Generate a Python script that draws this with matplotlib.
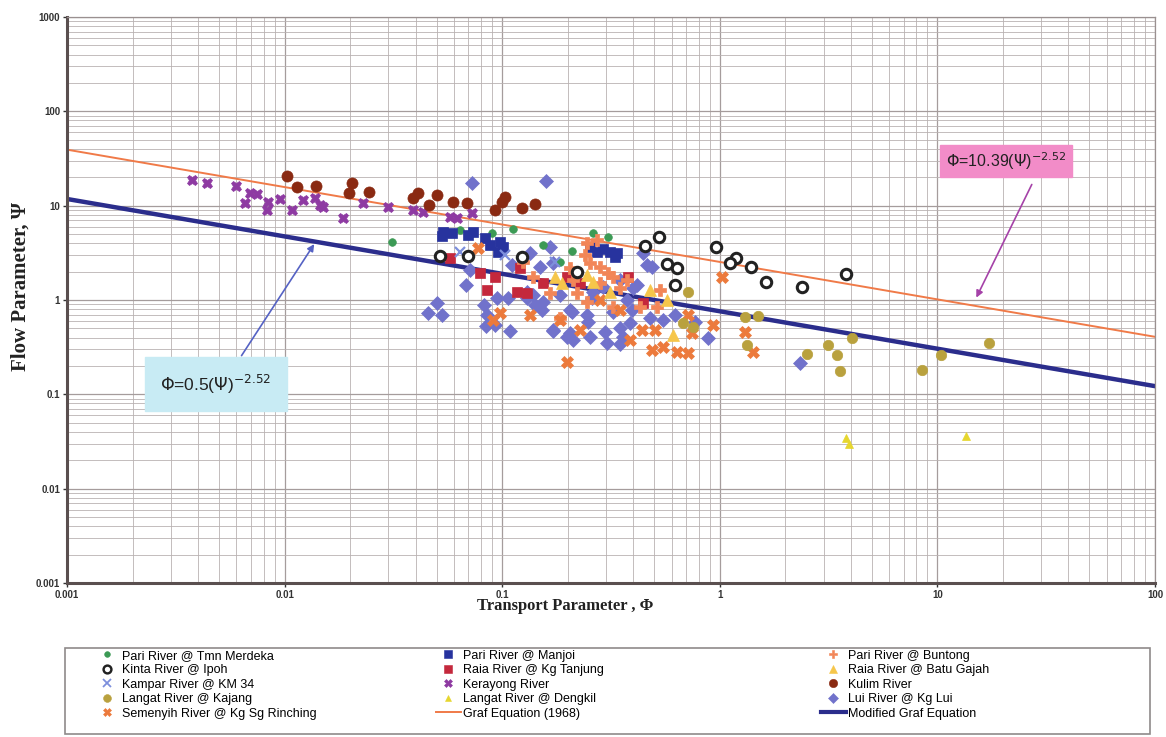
import numpy as np
import matplotlib
matplotlib.use("Agg")
import matplotlib.pyplot as plt
from matplotlib.lines import Line2D
from matplotlib.patches import Rectangle
from matplotlib.ticker import LogLocator, FixedLocator, FixedFormatter, NullFormatter

# ---------------- data (Transport parameter PHI, Flow parameter PSI) ----------------
tmn_phi = [0.0312, 0.064, 0.0711, 0.0898, 0.112, 0.154, 0.209, 0.261, 0.306, 0.185]
tmn_psi = [4.11, 5.51, 5.0, 5.13, 5.65, 3.82, 3.30, 5.13, 4.65, 2.52]

manjoi_phi = [0.0535, 0.053, 0.0588, 0.0697, 0.0735, 0.0834, 0.0977, 0.0957, 0.101,
              0.253, 0.273, 0.291, 0.313, 0.330, 0.337, 0.0879]
manjoi_psi = [5.25, 4.76, 5.13, 4.88, 5.25, 4.54, 4.11, 3.22, 3.64,
              3.64, 3.22, 3.47, 3.22, 2.85, 3.14, 3.82]

buntong_phi = [0.245, 0.240, 0.253, 0.282, 0.306, 0.323, 0.282, 0.348, 0.375, 0.212, 0.221,
               0.166, 0.139, 0.125, 0.430, 0.515, 0.531, 0.323, 0.245, 0.185, 0.273, 0.205]
buntong_psi = [4.02, 2.99, 2.46, 2.23, 1.93, 1.75, 1.51, 1.34, 1.62, 1.62, 1.18,
               1.18, 1.75, 2.52, 0.841, 0.841, 1.27, 0.841, 0.95, 0.643, 4.32, 2.18]

kinta_phi = [0.0518, 0.0697, 0.123, 0.221, 0.454, 0.526, 0.573, 0.637, 0.622, 0.961,
             1.19, 1.11, 1.39, 1.63, 2.39, 3.80]
kinta_psi = [2.92, 2.92, 2.85, 1.98, 3.73, 4.65, 2.40, 2.18, 1.44, 3.64,
             2.78, 2.46, 2.23, 1.55, 1.37, 1.88]

tanjung_phi = [0.0576, 0.0791, 0.0852, 0.0927, 0.117, 0.130, 0.154, 0.199, 0.228, 0.379,
               0.444, 0.121]
tanjung_psi = [2.78, 1.93, 1.27, 1.75, 1.21, 1.18, 1.51, 1.75, 1.51, 1.75, 0.929, 2.18]

batugajah_phi = [0.175, 0.188, 0.245, 0.261, 0.478, 0.573, 0.609, 0.313]
batugajah_psi = [1.75, 1.51, 1.84, 1.55, 1.27, 1.0, 0.425, 1.21]

kampar_phi = [0.103, 0.064, 0.175]
kampar_psi = [2.99, 3.22, 2.52]

kerayong_phi = [0.00375, 0.0044, 0.0060, 0.0069, 0.0075, 0.0066, 0.0084, 0.0083, 0.0095,
                0.0108, 0.0122, 0.0138, 0.0146, 0.0150, 0.0185, 0.0229, 0.0299, 0.0389,
                0.0433, 0.0576, 0.062, 0.0726]
kerayong_psi = [18.7, 17.4, 16.1, 13.6, 13.3, 10.7, 10.9, 9.0, 11.7, 9.0, 11.5, 12.0,
                10.1, 9.7, 7.4, 10.7, 9.7, 9.0, 8.55, 7.57, 7.4, 8.35]

kulim_phi = [0.0103, 0.0114, 0.0139, 0.0204, 0.0198, 0.0244, 0.0389, 0.0410, 0.0461,
             0.0502, 0.0594, 0.0689, 0.0927, 0.0998, 0.103, 0.123, 0.142]
kulim_psi = [20.6, 15.7, 16.1, 17.4, 13.6, 13.9, 12.0, 13.6, 10.1, 12.9, 10.9, 10.7,
             9.0, 10.9, 12.3, 9.44, 10.4]

kajang_phi = [0.714, 0.678, 0.753, 1.31, 1.50, 1.33, 2.52, 3.15, 3.46, 3.57, 4.05,
              8.51, 10.4, 17.3]
kajang_psi = [1.21, 0.569, 0.516, 0.659, 0.676, 0.333, 0.267, 0.333, 0.261, 0.176,
              0.395, 0.181, 0.261, 0.349]

dengkil_phi = [3.80, 3.93, 13.5]
dengkil_psi = [0.0343, 0.0297, 0.036]

lui_phi = [0.0726, 0.159, 0.0456, 0.0502, 0.053, 0.0682, 0.0826, 0.0843, 0.0927, 0.0947,
           0.109, 0.106, 0.130, 0.139, 0.142, 0.152, 0.171, 0.199, 0.212, 0.209, 0.248,
           0.253, 0.303, 0.297, 0.359, 0.387, 0.261, 0.323, 0.417, 0.0852, 0.548, 0.883,
           0.444, 0.489, 0.622, 0.769, 2.34, 0.134, 0.166, 0.171, 0.149, 0.130, 0.154,
           0.185, 0.205, 0.245, 0.259, 0.291, 0.348, 0.375, 0.399, 0.463, 0.478, 0.171,
           0.205, 0.348, 0.395, 0.111, 0.0711, 0.348]
lui_psi = [17.4, 18.2, 0.726, 0.929, 0.692, 1.44, 0.883, 0.528, 0.542, 1.05,
           0.468, 1.05, 1.05, 1.13, 0.883, 0.782, 0.468, 0.404, 0.376, 0.745, 0.583,
           0.404, 0.349, 0.457, 0.404, 0.569, 1.21, 0.745, 1.44, 0.692, 0.612, 0.395,
           3.14, 2.23, 0.692, 0.583, 0.214, 3.14, 3.64, 2.46, 2.23, 1.21, 0.95,
           1.13, 0.782, 0.692, 1.05, 1.37, 1.62, 1.0, 1.34, 2.35, 0.643, 0.48,
           0.446, 0.504, 0.782, 2.35, 2.08, 0.340]

semenyih_phi = [0.199, 0.0977, 0.0908, 0.489, 0.548, 0.637, 0.714, 0.931, 1.31, 1.42,
                1.02, 0.714, 0.746, 0.440, 0.0774, 0.282, 0.348, 0.228, 0.185, 0.387,
                0.504, 0.134]
semenyih_psi = [0.22, 0.726, 0.612, 0.294, 0.317, 0.281, 0.274, 0.542, 0.457, 0.281,
                1.75, 0.692, 0.446, 0.48, 3.55, 1.0, 0.782, 0.48, 0.612, 0.376,
                0.48, 0.692]

# equation constants
graf_coef = 10.39
mod_coef = 0.5
exponent = -2.52

x_ticks = [0.001, 0.01, 0.1, 1, 10, 100]
x_tick_labels = ["0.001", "0.01", "0.1", "1", "10", "100"]
y_ticks = [0.001, 0.01, 0.1, 1, 10, 100, 1000]
y_tick_labels = ["0.001", "0.01", "0.1", "1", "10", "100", "1000"]

# ---------------- figure ----------------
W, H = 1166, 737
fig = plt.figure(figsize=(W / 100, H / 100), dpi=100)
ax = fig.add_axes([67 / W, 1 - 583 / H, (1155 - 67) / W, (583 - 17) / H])
ax.set_xscale("log")
ax.set_yscale("log")
ax.set_xlim(0.001, 100)
ax.set_ylim(0.001, 1000)

grid_c = "#b9b2b2"
ax.xaxis.set_minor_locator(LogLocator(base=10, subs=np.arange(2, 10)))
ax.yaxis.set_minor_locator(LogLocator(base=10, subs=np.arange(2, 10)))
ax.xaxis.set_minor_formatter(NullFormatter())
ax.yaxis.set_minor_formatter(NullFormatter())
ax.grid(which="major", color="#a59c9c", lw=0.9)
ax.grid(which="minor", color=grid_c, lw=0.6)
ax.set_axisbelow(True)

ax.xaxis.set_major_locator(FixedLocator(x_ticks))
ax.xaxis.set_major_formatter(FixedFormatter(x_tick_labels))
ax.yaxis.set_major_locator(FixedLocator(y_ticks))
ax.yaxis.set_major_formatter(FixedFormatter(y_tick_labels))
ax.tick_params(which="major", labelsize=7, colors="#333333", length=3, width=1, pad=2)
ax.tick_params(which="minor", length=0)
for lab in ax.get_xticklabels() + ax.get_yticklabels():
    lab.set_fontweight("bold")
    lab.set_fontfamily("Liberation Sans")

for s in ["bottom", "left"]:
    ax.spines[s].set_color("#5a4f4f")
    ax.spines[s].set_linewidth(2.2)
for s in ["top", "right"]:
    ax.spines[s].set_color("#9a9090")
    ax.spines[s].set_linewidth(0.9)

# equation lines
phi_line = np.geomspace(0.001, 100, 200)
graf_psi = (phi_line / graf_coef) ** (1 / exponent)
mod_psi = (phi_line / mod_coef) ** (1 / exponent)
graf_color = "#f07a48"
mod_color = "#2b2d8c"
ax.plot(phi_line, graf_psi, color=graf_color, lw=1.4, zorder=2.5)
ax.plot(phi_line, mod_psi, color=mod_color, lw=3.2, zorder=2.5)

# series: (label, phi, psi, marker, face, edge, size, lw)
series = {
    "tmn": ("Pari River @ Tmn Merdeka", tmn_phi, tmn_psi, "o", "#3c9a55", "#3c9a55", 5.5, 0.5),
    "kinta": ("Kinta River @ Ipoh", kinta_phi, kinta_psi, "o", "white", "#222222", 7.5, 2.2),
    "kampar": ("Kampar River @ KM 34", kampar_phi, kampar_psi, "x", "#7d8fdc", "#7d8fdc", 7, 1.6),
    "kajang": ("Langat River @ Kajang", kajang_phi, kajang_psi, "o", "#b9a13e", "#b9a13e", 7.5, 0.5),
    "semenyih": ("Semenyih River @ Kg Sg Rinching", semenyih_phi, semenyih_psi, "X", "#ec7a3c", "#ec7a3c", 8, 0.5),
    "manjoi": ("Pari River @ Manjoi", manjoi_phi, manjoi_psi, "s", "#27339e", "#27339e", 7.5, 0.5),
    "tanjung": ("Raia River @ Kg Tanjung", tanjung_phi, tanjung_psi, "s", "#c4283c", "#c4283c", 7, 0.5),
    "kerayong": ("Kerayong River", kerayong_phi, kerayong_psi, "X", "#8e3aa2", "#8e3aa2", 7.5, 0.5),
    "dengkil": ("Langat River @ Dengkil", dengkil_phi, dengkil_psi, "^", "#e6d62e", "#e6d62e", 6, 0.5),
    "buntong": ("Pari River @ Buntong", buntong_phi, buntong_psi, "P", "#f28658", "#f28658", 8, 0.5),
    "batugajah": ("Raia River @ Batu Gajah", batugajah_phi, batugajah_psi, "^", "#f6c64a", "#f6c64a", 8, 0.5),
    "kulim": ("Kulim River", kulim_phi, kulim_psi, "o", "#8a2a12", "#8a2a12", 8, 0.5),
    "lui": ("Lui River @ Kg Lui", lui_phi, lui_psi, "D", "#7172cb", "#7172cb", 7, 0.5),
}
draw_order = ["lui", "tmn", "manjoi", "tanjung", "buntong", "semenyih", "batugajah",
              "kajang", "dengkil", "kampar", "kerayong", "kulim", "kinta"]
for key in draw_order:
    lab, xs, ys, m, fc, ec, ms, lw = series[key]
    ax.plot(xs, ys, ls="none", marker=m, mfc=fc, mec=ec, ms=ms, mew=lw, zorder=3)

# annotations
def graf_fn(p):
    return (p / graf_coef) ** (1 / exponent)

def mod_fn(p):
    return (p / mod_coef) ** (1 / exponent)

tip_red = 14.9
tip_blue = 0.0139
ax.annotate("", xy=(tip_red, graf_fn(tip_red) * 1.15), xytext=((1033 - 67) / 1088, (583 - 182) / 566),
            textcoords="axes fraction",
            arrowprops=dict(arrowstyle="-|>", color="#a542a8", lw=1.2, mutation_scale=10), zorder=5)
ax.annotate("", xy=(tip_blue, mod_fn(tip_blue)), xytext=((240 - 67) / 1088, (583 - 358) / 566),
            textcoords="axes fraction",
            arrowprops=dict(arrowstyle="-|>", color="#5562c4", lw=1.2, mutation_scale=10), zorder=5)

ax.text((1006 - 67) / 1088, (583 - 161) / 566, r"$\Phi$=10.39($\Psi$)$^{-2.52}$",
        transform=ax.transAxes, ha="center", va="center", fontsize=11.5, color="#222222",
        family="Liberation Sans",
        bbox=dict(boxstyle="square,pad=0.35", fc="#f28cc8", ec="#f28cc8"), zorder=6)
ax.text((216 - 67) / 1088, (583 - 384) / 566, r"$\Phi$=0.5($\Psi$)$^{-2.52}$",
        transform=ax.transAxes, ha="center", va="center", fontsize=12.5, color="#222222",
        family="Liberation Sans",
        bbox=dict(boxstyle="square,pad=0.9", fc="#c8ebf4", ec="#c8ebf4"), zorder=6)

# axis labels
fig.text(565 / W, 1 - 606 / H, "Transport Parameter , \u03a6", ha="center", va="center",
         fontsize=12, fontweight="bold", family="Liberation Serif", color="#222222")
fig.text(21 / W, 1 - 287 / H, "Flow Parameter, \u03a8", ha="center", va="center", rotation=90,
         fontsize=15, fontweight="bold", family="Liberation Serif", color="#222222")

# legend
fig.patches.append(Rectangle((65 / W, 1 - 734 / H), (1150 - 65) / W, (734 - 648) / H,
                             transform=fig.transFigure, fc="white", ec="#8f8a8a", lw=1.2))

def handle(key):
    lab, xs, ys, m, fc, ec, ms, lw = series[key]
    return Line2D([], [], ls="none", marker=m, mfc=fc, mec=ec, ms=ms * 0.75, mew=lw * 0.8, label=lab)

cols = [
    [handle("tmn"), handle("kinta"), handle("kampar"), handle("kajang"), handle("semenyih")],
    [handle("manjoi"), handle("tanjung"), handle("kerayong"), handle("dengkil"),
     Line2D([], [], color=graf_color, lw=1.4, label="Graf Equation (1968)")],
    [handle("buntong"), handle("batugajah"), handle("kulim"), handle("lui"),
     Line2D([], [], color=mod_color, lw=3, label="Modified Graf Equation")],
]
col_x = [86, 427, 812]
for cx, hs in zip(col_x, cols):
    fig.legend(handles=hs, loc="upper left", bbox_to_anchor=(cx / W, 1 - 641 / H),
               frameon=False, prop={"family": "Liberation Sans", "size": 9},
               labelspacing=0.2, handlelength=2.0, handletextpad=0.2, borderpad=0.2)

fig.savefig("out.png", dpi=100)
